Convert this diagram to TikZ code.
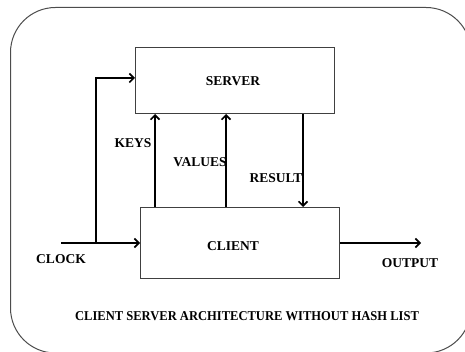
\documentclass[tikz,border=0pt]{standalone}
\usepackage{fontspec}
\setmainfont{Liberation Serif}
\usetikzlibrary{arrows.meta}
\begin{document}
\begin{tikzpicture}[x=1pt,y=-1pt,
  blk/.style={draw=black!75,line width=1pt,inner sep=0pt},
  lbl/.style={font=\bfseries\fontsize{13.5}{15}\selectfont,inner sep=0pt},
  conn/.style={line width=2pt,-{Straight Barb[length=4.5pt,width=9pt,line width=1.6pt]}},
  wire/.style={line width=2pt}]
\useasboundingbox (0,0) rectangle (465,352);
\draw[draw=black!70,line width=1pt,rounded corners=45pt] (10.5,7.5) rectangle (471,353);
\node[blk,minimum width=199pt,minimum height=66pt] (server) at (235,80.5) {};
\node[blk,minimum width=199pt,minimum height=71pt] (client) at (240,243) {};
\node[lbl] (servert) at (233,81) {SERVER};
\node[lbl] (clientt) at (233,246) {CLIENT};
\coordinate (clk) at (61,243);
\coordinate (br) at (96,243);
\coordinate (out) at (421,243);
\coordinate (kx) at (155,0);
\coordinate (vx) at (226,0);
\coordinate (rx) at (303,0);
\draw[wire] (clk) -- (br);
\draw[conn] (br) -- (client.west |- br);
\draw[conn] (br) |- (server.west |- 0,78);
\draw[conn] (client.north -| kx) -- (server.south -| kx);
\draw[conn] (client.north -| vx) -- (server.south -| vx);
\draw[conn] (server.south -| rx) -- (client.north -| rx);
\draw[conn] (client.east |- out) -- (out);
\node[lbl] (keys) at (133,143) {KEYS};
\node[lbl] (values) at (200,162) {VALUES};
\node[lbl] (result) at (276,178) {RESULT};
\node[lbl] (clock) at (61,259) {CLOCK};
\node[lbl] (output) at (410,263) {OUTPUT};
\node[lbl] (caption) at (247,316) {\scalebox{0.93}[1]{CLIENT SERVER ARCHITECTURE WITHOUT HASH LIST}};
\end{tikzpicture}
\end{document}
